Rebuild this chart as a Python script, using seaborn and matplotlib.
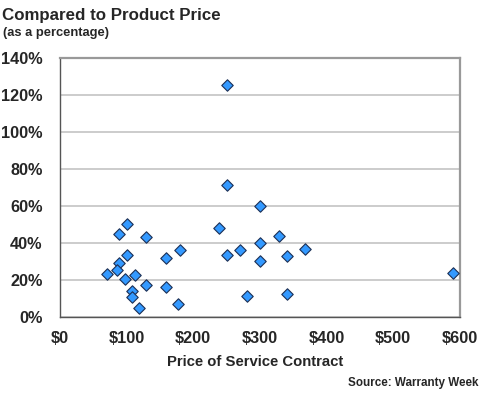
import matplotlib
matplotlib.use('Agg')
import matplotlib.pyplot as plt
import matplotlib.ticker as ticker
import seaborn as sns
import pandas as pd

# Precio del contrato de servicio (USD) y porcentaje sobre el precio del producto
precio = [250, 250, 300, 100, 89, 129, 239, 328, 300, 180, 270, 368, 250, 340, 100, 159,
          300, 88, 86, 70, 590, 113, 98, 129, 159, 108, 108, 280, 340, 177, 118]
porcentaje = [125.1, 71.5, 60.0, 50.1, 44.9, 43.1, 48.0, 43.8, 39.9, 36.1, 36.1, 36.8, 33.6,
              33.1, 33.2, 32.0, 30.0, 28.9, 25.3, 23.2, 23.5, 22.5, 20.7, 17.3, 16.2, 14.2,
              10.8, 11.1, 12.2, 7.0, 4.7]

x_ticks = [0, 100, 200, 300, 400, 500, 600]
y_ticks = [0, 20, 40, 60, 80, 100, 120, 140]

df = pd.DataFrame({'Precio': precio, 'Porcentaje': porcentaje})

sns.set_style("white")
plt.rcParams['font.family'] = ['Liberation Sans', 'DejaVu Sans']
plt.rcParams['font.weight'] = 'bold'

fig = plt.figure(figsize=(4.8, 4.0), dpi=100)
ax = fig.add_axes([0.125, 0.2075, 0.833, 0.6485])

ax.yaxis.grid(True, color='#c4c4c4', linewidth=1.2)
ax.set_axisbelow(True)

sns.scatterplot(x='Precio', y='Porcentaje', data=df, marker='D', s=34,
                color='#3399ff', edgecolor='#1c2f55', linewidth=0.8, ax=ax, zorder=3)

ax.set_xlim(0, 600)
ax.set_ylim(0, 140)
ax.set_xticks(x_ticks)
ax.set_yticks(y_ticks)
ax.xaxis.set_minor_locator(ticker.MultipleLocator(20))
ax.yaxis.set_minor_locator(ticker.MultipleLocator(4))
ax.xaxis.set_major_formatter(ticker.FuncFormatter(lambda x, _: f'${int(x)}'))
ax.yaxis.set_major_formatter(ticker.FuncFormatter(lambda y, _: f'{int(y)}%'))

ax.tick_params(axis='both', which='major', direction='inout', length=9, width=1,
               color='#555555', labelsize=11.7)
ax.tick_params(axis='x', which='major', pad=5.5)
ax.tick_params(axis='y', which='major', pad=8)
ax.tick_params(axis='both', which='minor', direction='in', length=4, width=1, color='#555555')
for lbl in ax.get_xticklabels() + ax.get_yticklabels():
    lbl.set_fontweight('bold')

for side in ['left', 'bottom']:
    ax.spines[side].set_color('#555555')
    ax.spines[side].set_linewidth(1)
for side in ['top', 'right']:
    ax.spines[side].set_color('#999999')
    ax.spines[side].set_linewidth(1.6)

ax.set_xlabel('Price of Service Contract', fontsize=10.7, fontweight='bold', labelpad=6)
ax.xaxis.set_label_coords(0.4875, -0.147)
ax.set_ylabel('')

fig.text(0.004, 0.962, 'Compared to Product Price', fontsize=12.2, fontweight='bold', va='center')
fig.text(0.006, 0.918, '(as a percentage)', fontsize=9.3, fontweight='bold', va='center')
fig.text(0.996, 0.042, 'Source: Warranty Week', fontsize=8.4, fontweight='bold',
         ha='right', va='center')

fig.savefig('out.png', dpi=100)
